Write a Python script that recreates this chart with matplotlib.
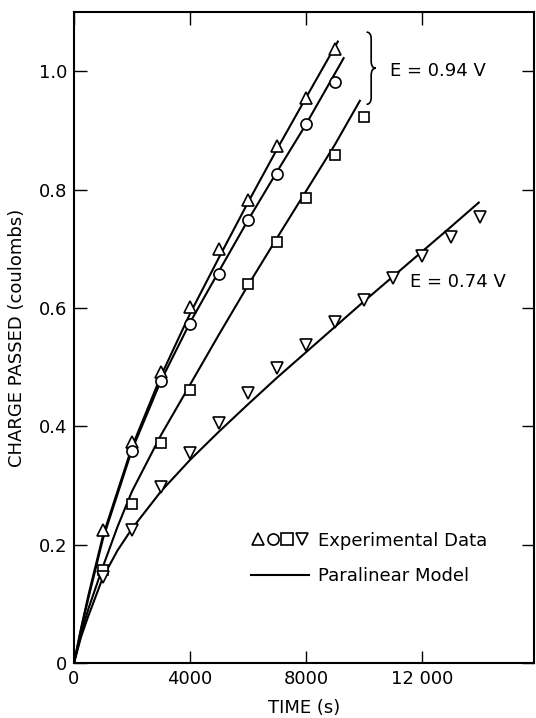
import matplotlib
matplotlib.use("Agg")
import matplotlib.pyplot as plt
from matplotlib.lines import Line2D
from matplotlib.legend_handler import HandlerTuple
from matplotlib.path import Path
from matplotlib.patches import PathPatch

plt.rcParams['font.family'] = ['DejaVu Sans']

# experimental data (time in s, charge in coulombs)
t_up = [1000, 2000, 3000, 4000, 5000, 6000, 7000, 8000, 9000]
q_up = [0.224, 0.373, 0.491, 0.601, 0.699, 0.783, 0.873, 0.955, 1.038]

t_circ = [2000, 3000, 4000, 5000, 6000, 7000, 8000, 9000]
q_circ = [0.358, 0.476, 0.572, 0.658, 0.749, 0.827, 0.910, 0.981]

t_sq = [1000, 2000, 3000, 4000, 6000, 7000, 8000, 9000, 10000]
q_sq = [0.157, 0.268, 0.371, 0.461, 0.641, 0.711, 0.785, 0.859, 0.922]

t_down = [1000, 2000, 3000, 4000, 5000, 6000, 7000, 8000, 9000, 10000,
          11000, 12000, 13000, 14000]
q_down = [0.145, 0.224, 0.297, 0.354, 0.405, 0.456, 0.498, 0.537, 0.577,
          0.614, 0.650, 0.687, 0.719, 0.754]

# paralinear model curves
mt_up = [0, 250, 500, 1000, 2000, 3000, 4000, 5000, 6000, 7000, 8000, 9100]
mq_up = [0, 0.06, 0.115, 0.215, 0.365, 0.485, 0.59, 0.685, 0.778, 0.868, 0.955, 1.05]

mt_circ = [0, 250, 500, 1000, 2000, 3000, 4000, 5000, 6000, 7000, 8000, 9300]
mq_circ = [0, 0.058, 0.11, 0.21, 0.36, 0.477, 0.575, 0.662, 0.748, 0.83, 0.91, 1.022]

mt_sq = [0, 250, 500, 1000, 1500, 2000, 3000, 4000, 5000, 6000, 7000, 8000, 9000, 9860]
mq_sq = [0, 0.05, 0.092, 0.163, 0.23, 0.29, 0.385, 0.47, 0.555, 0.638, 0.718, 0.797,
         0.876, 0.95]

mt_down = [0, 250, 500, 1000, 1500, 2000, 3000, 4000, 5000, 6000, 7000, 8000,
           9000, 10000, 11000, 12000, 13000, 13960]
mq_down = [0, 0.045, 0.08, 0.145, 0.19, 0.227, 0.29, 0.343, 0.391, 0.437, 0.482,
           0.525, 0.568, 0.611, 0.653, 0.695, 0.737, 0.778]

fig = plt.figure(figsize=(5.36, 7.18), dpi=100)
ax = fig.add_axes([0.138, 0.0766, 0.858, 0.9067])

for mt, mq in [(mt_up, mq_up), (mt_circ, mq_circ), (mt_sq, mq_sq), (mt_down, mq_down)]:
    ax.plot(mt, mq, color='black', lw=1.5, zorder=2)

mk = dict(ls='none', mfc='white', mec='black', mew=1.2, ms=8, zorder=3)
ax.plot(t_up, q_up, marker='^', **mk)
ax.plot(t_circ, q_circ, marker='o', **mk)
ax.plot(t_sq, q_sq, marker='s', **dict(mk, ms=7))
ax.plot(t_down, q_down, marker='v', **mk)

ax.set_xlim(0, 15860)
ax.set_ylim(0, 1.1)
ax.set_xticks([0, 4000, 8000, 12000])
ax.set_xticklabels(['0', '4000', '8000', '12 000'])
ax.set_yticks([0, 0.2, 0.4, 0.6, 0.8, 1.0])
ax.set_yticklabels(['0', '0.2', '0.4', '0.6', '0.8', '1.0'])
ax.tick_params(direction='in', length=9, width=1, top=True, right=True,
               labelsize=13, pad=5)
for s in ax.spines.values():
    s.set_linewidth(1.5)

ax.set_xlabel('TIME (s)', fontsize=13, labelpad=8)
ax.set_ylabel('CHARGE PASSED (coulombs)', fontsize=13, labelpad=9)

# curly brace grouping the E = 0.94 V curves
bx, btop, bbot, bmid, w, r = 10250, 1.066, 0.944, 1.005, 160, 0.012
verts = [(bx - w, btop), (bx, btop), (bx, btop - r),
         (bx, bmid + r),
         (bx, bmid), (bx + w, bmid),
         (bx, bmid), (bx, bmid - r),
         (bx, bbot + r),
         (bx, bbot), (bx - w, bbot)]
codes = [Path.MOVETO, Path.CURVE3, Path.CURVE3,
         Path.LINETO,
         Path.CURVE3, Path.CURVE3,
         Path.CURVE3, Path.CURVE3,
         Path.LINETO,
         Path.CURVE3, Path.CURVE3]
ax.add_patch(PathPatch(Path(verts, codes), fill=False, lw=1.2, color='black'))

ax.text(10900, 1.0, 'E = 0.94 V', fontsize=13, va='center')
ax.text(11580, 0.643, 'E = 0.74 V', fontsize=13, va='center')

# legend
h_data = tuple(Line2D([], [], marker=m, **mk) for m in ['^', 'o', 's', 'v'])
h_model = Line2D([], [], color='black', lw=1.5)
ax.legend([h_data, h_model], ['Experimental Data', 'Paralinear Model'],
          handler_map={tuple: HandlerTuple(ndivide=None, pad=0)},
          frameon=False, fontsize=13, loc='lower left',
          bbox_to_anchor=(0.35, 0.095), handlelength=3.2, handletextpad=0.5,
          labelspacing=0.95)

fig.savefig('out.png', dpi=100)
